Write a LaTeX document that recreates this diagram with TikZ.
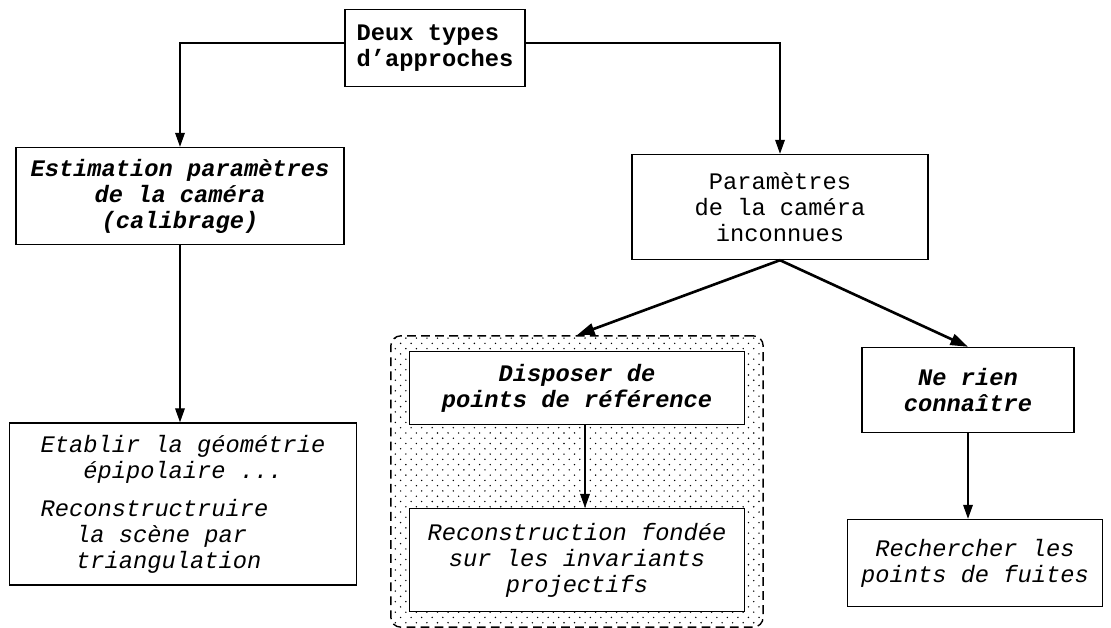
\documentclass[tikz,border=0pt]{standalone}
\usepackage{fontspec}
\setmainfont{Liberation Mono}
\setmonofont{Liberation Mono}
\usetikzlibrary{arrows.meta, positioning, patterns, fit, backgrounds}
\newcommand{\boxsize}{\fontsize{13.5}{14.8}\selectfont}
\pgfdeclarepatternformonly{refdots}{\pgfqpoint{-1pt}{-1pt}}{\pgfqpoint{5pt}{5pt}}{\pgfqpoint{6pt}{6pt}}{%
  \pgfpathcircle{\pgfqpoint{0pt}{0pt}}{0.45pt}%
  \pgfpathcircle{\pgfqpoint{3pt}{3pt}}{0.45pt}%
  \pgfusepath{fill}}

\begin{document}
\begin{tikzpicture}[
    x=0.02cm, y=-0.02cm,
    box/.style={rectangle, draw, line width=0.8pt, inner sep=0pt, align=center, fill=white, font=\boxsize},
    boldbox/.style={box, font=\boxsize\bfseries},
    titlebox/.style={box, font=\boxsize\bfseries\itshape},
    textbox/.style={box, font=\boxsize\itshape},
    arrow/.style={-{Triangle[width=5.5pt,length=8pt]}, line width=0.8pt},
    thick arrow/.style={-{Triangle[width=6.5pt,length=10pt]}, line width=1.5pt}
  ]
    \useasboundingbox (0,0) rectangle (1111,628);
    \node[boldbox, minimum width=3.6cm, minimum height=1.54cm, align=left] (types) at (435,48) {Deux types\\d'approches};
    \node[titlebox, minimum width=6.56cm, minimum height=1.94cm] (calib) at (180,196) {Estimation paramètres\\de la caméra\\(calibrage)};
    \node[box, minimum width=5.92cm, minimum height=2.1cm] (inconnu) at (780,207) {Paramètres\\de la caméra\\inconnues};
    \node[textbox, minimum width=6.94cm, minimum height=3.24cm, align=left] (epipol) at (183,504)
      {Etablir la géométrie\\\hspace*{1.8em}épipolaire ...\\[0.24cm]Reconstructruire\\\hspace*{1.5em}la scène par\\\hspace*{1.5em}triangulation};
    \node[titlebox, minimum width=6.7cm, minimum height=1.46cm] (refpts) at (577,388) {Disposer de\\points de référence};
    \node[textbox, minimum width=6.7cm, minimum height=2.06cm] (invar) at (577,560) {Reconstruction fondée\\sur les invariants\\projectifs};
    \node[titlebox, minimum width=4.24cm, minimum height=1.7cm] (rien) at (968,390) {Ne rien\\connaître};
    \node[textbox, minimum width=5.1cm, minimum height=1.74cm] (fuites) at (975,563) {Rechercher les\\points de fuites};
    % zone pointillee autour des points de reference
    \begin{scope}[on background layer]
      \node[fit=(refpts)(invar), inner xsep=0.36cm, inner ysep=0.3cm, draw, dash pattern=on 5pt off 3pt,
        line width=0.8pt, rounded corners=0.2cm, pattern=refdots] (zone) {};
    \end{scope}
    \draw[arrow] ([yshift=0.1cm]types.west) -| (calib.north);
    \draw[arrow] ([yshift=0.1cm]types.east) -| (inconnu.north);
    \draw[arrow] (calib.south) -- (calib.south |- epipol.north);
    \draw[thick arrow] (inconnu.south) -- (zone.north);
    \draw[thick arrow] (inconnu.south) -- (rien.north);
    \draw[arrow] ([xshift=0.16cm]refpts.south) -- ([xshift=0.16cm]invar.north);
    \draw[arrow] (rien.south) -- (rien.south |- fuites.north);
  \end{tikzpicture}
\end{document}
